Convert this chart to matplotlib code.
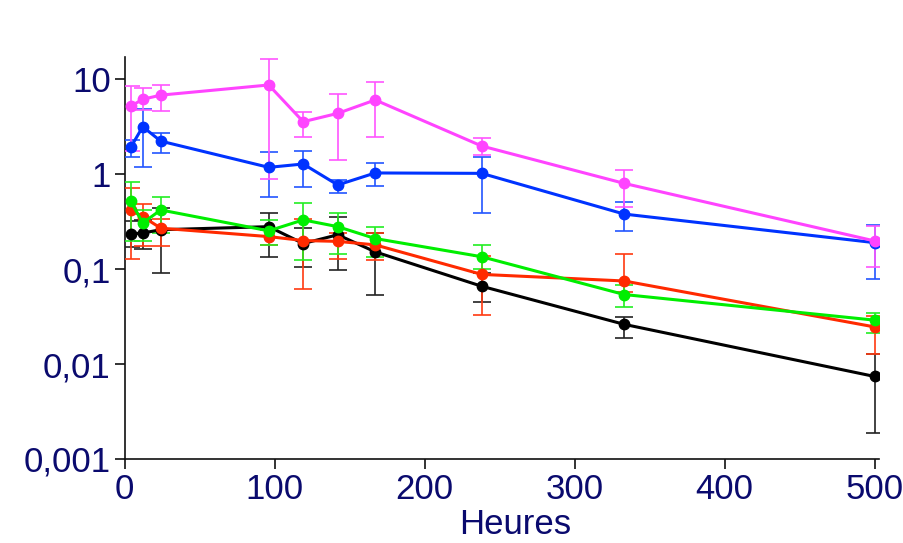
import matplotlib
matplotlib.use("Agg")
import matplotlib.pyplot as plt
import matplotlib.ticker as mticker
from matplotlib import font_manager as fm

hours = [4, 12, 24, 96, 119, 142, 167, 238, 333, 500]

magenta_val = [5.2, 6.15, 6.8, 8.7, 3.57, 4.37, 6.05, 1.98, 0.80, 0.198]
magenta_lo = [1.77, 4.75, 4.67, 0.89, 2.44, 1.41, 2.44, 1.6, 0.45, 0.105]
magenta_hi = [8.4, 8.0, 8.7, 16.3, 4.55, 7.0, 9.4, 2.39, 1.10, 0.285]

blue_val = [1.92, 3.16, 2.23, 1.18, 1.28, 0.77, 1.03, 1.02, 0.38, 0.19]
blue_lo = [1.5, 1.18, 1.66, 0.58, 0.73, 0.63, 0.75, 0.39, 0.25, 0.078]
blue_hi = [2.28, 4.8, 2.7, 1.72, 1.77, 0.86, 1.30, 1.5, 0.51, 0.295]

green_val = [0.52, 0.306, 0.42, 0.253, 0.33, 0.28, 0.21, 0.135, 0.054, 0.029]
green_lo = [0.2, 0.2, 0.24, 0.18, 0.126, 0.144, 0.134, 0.10, 0.040, 0.021]
green_hi = [0.83, 0.42, 0.58, 0.33, 0.5, 0.39, 0.275, 0.178, 0.068, 0.0345]

red_val = [0.42, 0.357, 0.27, 0.22, 0.2, 0.196, 0.18, 0.088, 0.075, 0.0246]
red_lo = [0.129, 0.174, 0.174, 0.18, 0.062, 0.129, 0.124, 0.033, 0.058, 0.0129]
red_hi = [0.71, 0.49, 0.34, 0.26, 0.34, 0.24, 0.24, 0.137, 0.146, 0.032]

black_val = [0.235, 0.24, 0.26, 0.28, 0.186, 0.23, 0.152, 0.066, 0.0262, 0.0074]
black_lo = [0.17, 0.163, 0.09, 0.135, 0.105, 0.098, 0.053, 0.045, 0.019, 0.0019]
black_hi = [0.32, 0.33, 0.44, 0.39, 0.274, 0.35, 0.24, 0.09, 0.0316, 0.0129]

y_ticks = [0.001, 0.01, 0.1, 1, 10]
y_labels = ["0,001", "0,01", "0,1", "1", "10"]
x_ticks = [0, 100, 200, 300, 400, 500]
x_label = "Heures"

names = set(f.name for f in fm.fontManager.ttflist)
fam = ["Liberation Sans Narrow", "Liberation Sans", "DejaVu Sans"]
fam = [f for f in fam if f in names] or ["DejaVu Sans"]
plt.rcParams["font.family"] = fam

txt_color = "#0a0a6e"

fig = plt.figure(figsize=(9.04, 5.43), dpi=100)
ax = fig.add_axes([0.138, 0.1547, 0.834, 0.741])

series = [
    (black_val, black_lo, black_hi, "#000000", "#222222"),
    (red_val, red_lo, red_hi, "#ff2a00", "#ff3a10"),
    (green_val, green_lo, green_hi, "#00ee00", "#22ee22"),
    (blue_val, blue_lo, blue_hi, "#0033ff", "#2255ff"),
    (magenta_val, magenta_lo, magenta_hi, "#ff44ff", "#ff55ff"),
]
for val, lo, hi, col, ecol in series:
    yerr = [[v - l for v, l in zip(val, lo)], [h - v for v, h in zip(val, hi)]]
    ax.errorbar(hours, val, yerr=yerr, color=col, ecolor=ecol, lw=2.2,
                elinewidth=1.2, capsize=6.5, capthick=1.2, marker="o",
                markersize=7.5, zorder=3)

ax.set_yscale("log")
ax.set_ylim(0.001, 17.3)
ax.set_xlim(0, 502.7)
ax.yaxis.set_major_locator(mticker.FixedLocator(y_ticks))
ax.yaxis.set_major_formatter(mticker.FixedFormatter(y_labels))
ax.yaxis.set_minor_locator(mticker.NullLocator())
ax.set_xticks(x_ticks)
ax.set_xticklabels([str(t) for t in x_ticks])

for s in ["top", "right"]:
    ax.spines[s].set_visible(False)
for s in ["left", "bottom"]:
    ax.spines[s].set_linewidth(1.2)
    ax.spines[s].set_color("#111111")

ax.tick_params(axis="both", direction="out", length=7, width=1.2,
               labelsize=25, colors="#111111", labelcolor=txt_color, pad=3)
ax.set_xlabel(x_label, fontsize=25, color=txt_color)
ax.xaxis.set_label_coords(0.518, -0.122)

fig.savefig("out.png", dpi=100)
